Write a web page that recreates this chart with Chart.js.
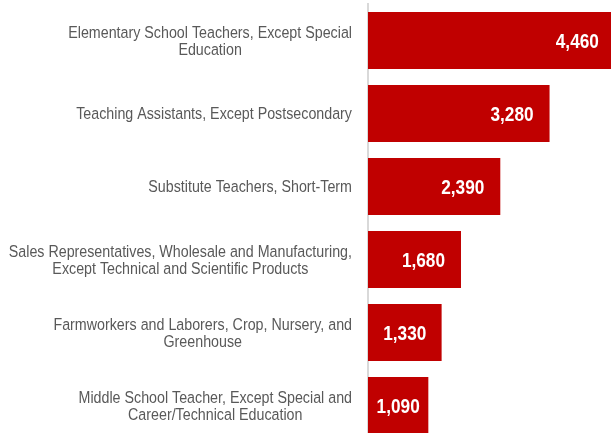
<!DOCTYPE html>
<html>
<head>
<meta charset="utf-8">
<script src="https://cdn.jsdelivr.net/npm/chart.js@4.4.1/dist/chart.umd.min.js"></script>
<style>
  html, body { margin: 0; padding: 0; background: #ffffff; overflow: hidden; }
  #wrap { width: 611px; height: 446px; position: relative; }
</style>
</head>
<body>
<div id="wrap"><canvas id="jobsChart"></canvas></div>
<script>
/* --------------- Data --------------------- */
const categories = [
  ["Elementary School Teachers, Except Special", "Education"],
  ["Teaching Assistants, Except Postsecondary"],
  ["Substitute Teachers, Short-Term"],
  ["Sales Representatives, Wholesale and Manufacturing,", "Except Technical and Scientific Products"],
  ["Farmworkers and Laborers, Crop, Nursery, and", "Greenhouse"],
  ["Middle School Teacher, Except Special and", "Career/Technical Education"],
];
const jobCounts = [4460, 3280, 2390, 1680, 1330, 1090];

const barColor = "#C00000";
const labelFont = "'Liberation Sans', Arial, sans-serif";
const narrow = 0.82; // no Arial Narrow installed, squeeze the glyphs instead

// draw text horizontally condensed, anchored at (x, y)
function narrowText(ctx, text, x, y, align) {
  ctx.save();
  ctx.translate(x, y);
  ctx.scale(narrow, 1);
  ctx.textAlign = align;
  ctx.fillText(text, 0, 0);
  ctx.restore();
}

/* --------------- Category labels (right-aligned block, centered lines) --------------------- */
const categoryLabels = {
  id: "categoryLabels",
  afterDraw(chart) {
    const ctx = chart.ctx;
    const yScale = chart.scales.y;
    const right = chart.chartArea.left - 16;
    const lineHeight = 17.5;
    ctx.save();
    ctx.font = "17.4px " + labelFont;
    ctx.fillStyle = "#595959";
    ctx.textBaseline = "middle";
    categories.forEach((lines, i) => {
      const yc = yScale.getPixelForValue(i) + 1;
      const widest = Math.max(...lines.map((l) => ctx.measureText(l).width)) * narrow;
      const cx = right - widest / 2;
      const top = yc - (lines.length - 1) * lineHeight / 2;
      lines.forEach((l, j) => narrowText(ctx, l, cx, top + j * lineHeight, "center"));
    });
    ctx.restore();
  },
};

/* --------------- Value labels inside bar ends --------------------- */
const valueLabels = {
  id: "valueLabels",
  afterDatasetsDraw(chart) {
    const ctx = chart.ctx;
    const meta = chart.getDatasetMeta(0);
    ctx.save();
    ctx.font = "bold 21px " + labelFont;
    ctx.fillStyle = "#ffffff";
    ctx.textBaseline = "middle";
    meta.data.forEach((bar, i) => {
      const text = jobCounts[i].toLocaleString("en-US");
      const tw = ctx.measureText(text).width * narrow;
      const x = Math.max(bar.x - 16, (bar.base + bar.x) / 2 + tw / 2);
      narrowText(ctx, text, x, bar.y + 2, "right");
    });
    ctx.restore();
  },
};

/* --------------- Chart --------------------- */
new Chart(document.getElementById("jobsChart"), {
  type: "bar",
  plugins: [categoryLabels, valueLabels],
  data: {
    labels: categories,
    datasets: [
      {
        data: jobCounts,
        backgroundColor: barColor,
        borderWidth: 0,
        categoryPercentage: 1,
        barPercentage: 0.78,
      },
    ],
  },
  options: {
    indexAxis: "y",
    responsive: true,
    maintainAspectRatio: false,
    animation: false,
    layout: { padding: { top: 4, bottom: 4, left: 0, right: 0 } },
    plugins: {
      legend: { display: false },
      tooltip: { enabled: false },
    },
    scales: {
      x: {
        min: 0,
        max: 4390,
        display: false,
      },
      y: {
        grid: { display: false, drawTicks: false },
        ticks: { display: false },
        border: { display: true, color: "#d9d9d9", width: 2 },
        afterFit: (scale) => { scale.width = 368; },
      },
    },
  },
});
</script>
</body>
</html>
